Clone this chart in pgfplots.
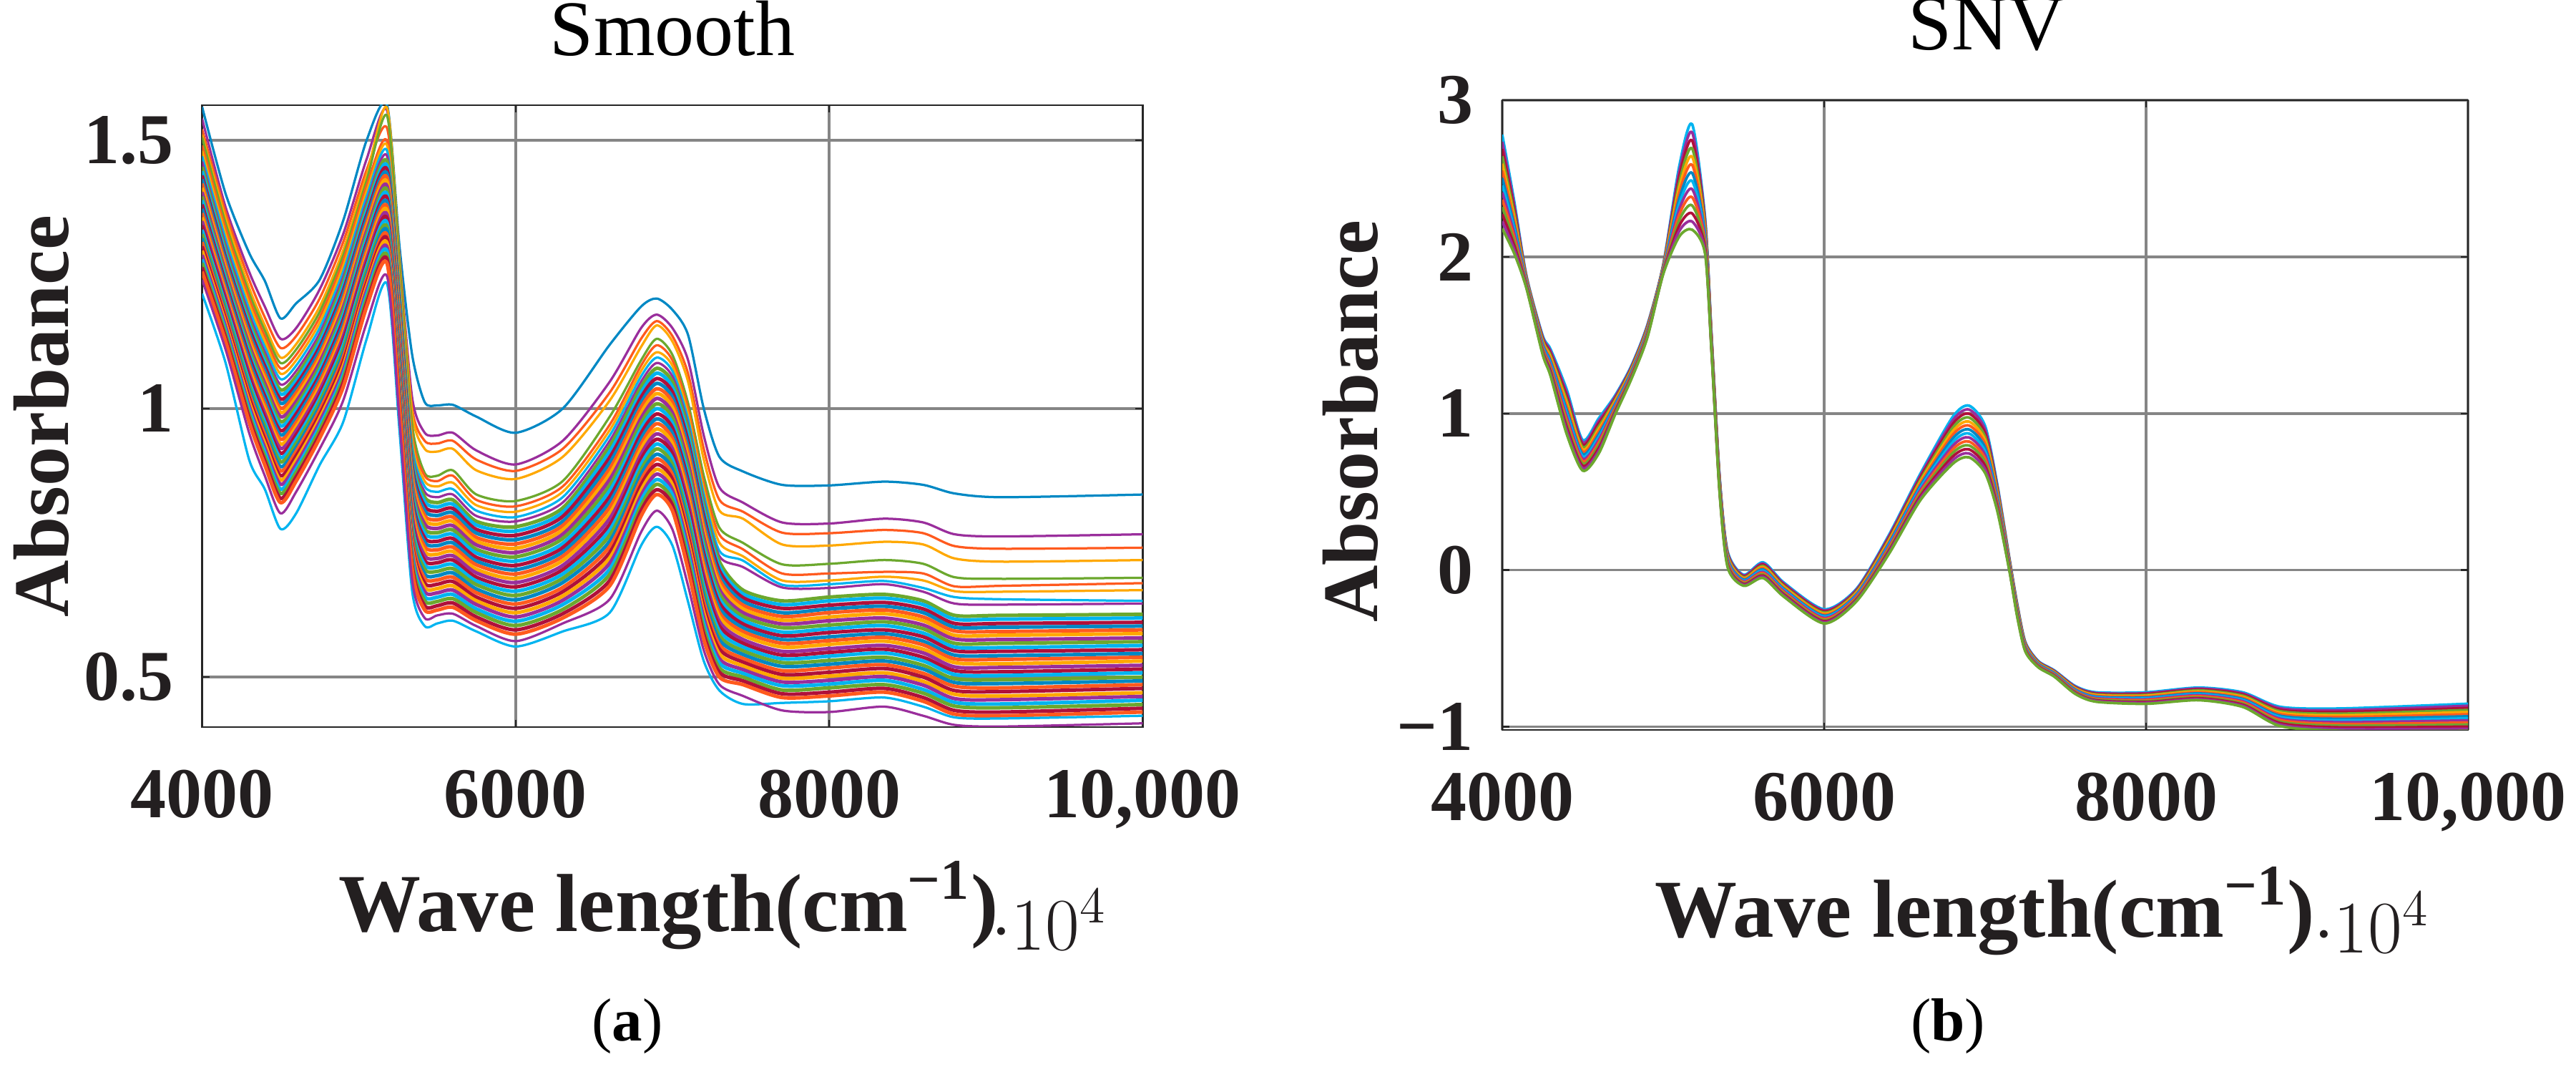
\documentclass[border=0pt]{standalone}
\usepackage{fontspec}
\setmainfont{Liberation Serif}
\usepackage{pgfplots}
\usepackage{pgfplotstable}
\pgfplotsset{compat=1.18}

\definecolor{mbl}{HTML}{0088C4}
\definecolor{mor}{HTML}{FF5A1E}
\definecolor{myl}{HTML}{FFA800}
\definecolor{mpu}{HTML}{9A2E9C}
\definecolor{mgr}{HTML}{6CA82E}
\definecolor{mcy}{HTML}{00B4F0}
\definecolor{mre}{HTML}{B0103A}
\definecolor{txt}{HTML}{231F20}

% Smooth: x, 9 upper curves, 26 main band curves, 2 lower curves
\pgfplotstableread{
4000 1.562 1.540 1.520 1.510 1.505 1.490 1.480 1.470 1.460 1.450 1.442 1.434 1.427 1.419 1.411 1.403 1.395 1.388 1.380 1.372 1.364 1.356 1.349 1.341 1.333 1.325 1.317 1.310 1.302 1.294 1.286 1.278 1.271 1.263 1.255 1.214 1.240
4150 1.400 1.375 1.365 1.355 1.345 1.335 1.325 1.315 1.305 1.295 1.288 1.281 1.275 1.268 1.261 1.254 1.247 1.241 1.234 1.227 1.220 1.213 1.207 1.200 1.193 1.186 1.179 1.173 1.166 1.159 1.152 1.145 1.139 1.132 1.125 1.085 1.110
4300 1.290 1.255 1.240 1.225 1.215 1.205 1.195 1.185 1.175 1.165 1.157 1.150 1.142 1.135 1.127 1.119 1.112 1.104 1.097 1.089 1.081 1.074 1.066 1.059 1.051 1.043 1.036 1.028 1.021 1.013 1.005 0.998 0.990 0.983 0.975 0.905 0.955
4400 1.238 1.190 1.170 1.155 1.145 1.135 1.125 1.115 1.105 1.095 1.087 1.079 1.071 1.063 1.055 1.047 1.039 1.031 1.023 1.015 1.007 0.999 0.991 0.983 0.975 0.967 0.959 0.951 0.943 0.935 0.927 0.919 0.911 0.903 0.895 0.850 0.875
4500 1.168 1.130 1.113 1.095 1.085 1.075 1.065 1.055 1.045 1.035 1.027 1.018 1.010 1.001 0.993 0.985 0.976 0.968 0.959 0.951 0.943 0.934 0.926 0.917 0.909 0.901 0.892 0.884 0.875 0.867 0.859 0.850 0.842 0.833 0.825 0.776 0.805
4600 1.196 1.150 1.135 1.120 1.110 1.100 1.090 1.080 1.070 1.060 1.052 1.044 1.037 1.029 1.021 1.013 1.005 0.998 0.990 0.982 0.974 0.966 0.959 0.951 0.943 0.935 0.927 0.920 0.912 0.904 0.896 0.888 0.881 0.873 0.865 0.805 0.845
4750 1.240 1.222 1.205 1.190 1.180 1.170 1.160 1.150 1.140 1.130 1.123 1.115 1.108 1.100 1.093 1.086 1.078 1.071 1.063 1.056 1.049 1.041 1.034 1.026 1.019 1.012 1.004 0.997 0.989 0.982 0.975 0.967 0.960 0.952 0.945 0.895 0.925
4900 1.350 1.325 1.310 1.295 1.285 1.275 1.265 1.255 1.245 1.235 1.227 1.219 1.212 1.204 1.196 1.188 1.180 1.173 1.165 1.157 1.149 1.141 1.134 1.126 1.118 1.110 1.102 1.095 1.087 1.079 1.071 1.063 1.056 1.048 1.040 0.975 1.015
5050 1.500 1.465 1.445 1.435 1.425 1.415 1.405 1.395 1.385 1.375 1.368 1.360 1.353 1.345 1.338 1.331 1.323 1.316 1.308 1.301 1.294 1.286 1.279 1.271 1.264 1.257 1.249 1.242 1.234 1.227 1.220 1.212 1.205 1.197 1.190 1.130 1.160
5180 1.565 1.555 1.522 1.560 1.545 1.498 1.490 1.480 1.470 1.460 1.452 1.445 1.437 1.430 1.422 1.414 1.407 1.399 1.392 1.384 1.376 1.369 1.361 1.354 1.346 1.338 1.331 1.323 1.316 1.308 1.300 1.293 1.285 1.278 1.270 1.232 1.246
5260 1.300 1.280 1.270 1.275 1.265 1.240 1.230 1.220 1.210 1.200 1.192 1.184 1.176 1.168 1.160 1.152 1.144 1.136 1.128 1.120 1.112 1.104 1.096 1.088 1.080 1.072 1.064 1.056 1.048 1.040 1.032 1.024 1.016 1.008 1.000 0.955 0.975
5340 1.100 1.020 1.000 0.990 0.970 0.950 0.940 0.930 0.920 0.910 0.902 0.893 0.885 0.876 0.868 0.860 0.851 0.843 0.834 0.826 0.818 0.809 0.801 0.792 0.784 0.776 0.767 0.759 0.750 0.742 0.734 0.725 0.717 0.708 0.700 0.660 0.680
5420 1.012 0.955 0.940 0.925 0.880 0.875 0.865 0.855 0.845 0.835 0.827 0.818 0.810 0.801 0.793 0.785 0.776 0.768 0.759 0.751 0.743 0.734 0.726 0.717 0.709 0.701 0.692 0.684 0.675 0.667 0.659 0.650 0.642 0.633 0.625 0.595 0.610
5500 1.006 0.950 0.935 0.920 0.875 0.865 0.855 0.845 0.835 0.825 0.817 0.809 0.801 0.793 0.785 0.777 0.769 0.761 0.753 0.745 0.737 0.729 0.721 0.713 0.705 0.697 0.689 0.681 0.673 0.665 0.657 0.649 0.641 0.633 0.625 0.600 0.615
5600 1.007 0.955 0.940 0.925 0.885 0.875 0.862 0.850 0.840 0.830 0.822 0.814 0.806 0.798 0.790 0.782 0.774 0.766 0.758 0.750 0.742 0.734 0.726 0.718 0.710 0.702 0.694 0.686 0.678 0.670 0.662 0.654 0.646 0.638 0.630 0.605 0.618
5750 0.985 0.922 0.905 0.885 0.840 0.830 0.820 0.810 0.800 0.790 0.783 0.775 0.768 0.760 0.753 0.746 0.738 0.731 0.723 0.716 0.709 0.701 0.694 0.686 0.679 0.672 0.664 0.657 0.649 0.642 0.635 0.627 0.620 0.612 0.605 0.585 0.595
6000 0.955 0.896 0.884 0.869 0.828 0.818 0.808 0.798 0.790 0.780 0.772 0.764 0.756 0.748 0.740 0.732 0.724 0.716 0.708 0.700 0.692 0.684 0.676 0.668 0.660 0.652 0.644 0.636 0.628 0.620 0.612 0.604 0.596 0.588 0.580 0.557 0.567
6300 1.000 0.940 0.925 0.910 0.865 0.855 0.845 0.835 0.825 0.815 0.807 0.799 0.790 0.782 0.774 0.766 0.758 0.749 0.741 0.733 0.725 0.717 0.708 0.700 0.692 0.684 0.676 0.667 0.659 0.651 0.643 0.635 0.626 0.618 0.610 0.585 0.600
6600 1.119 1.050 1.030 1.015 0.985 0.970 0.960 0.950 0.940 0.930 0.920 0.909 0.899 0.888 0.878 0.868 0.857 0.847 0.836 0.826 0.816 0.805 0.795 0.784 0.774 0.764 0.753 0.743 0.732 0.722 0.712 0.701 0.691 0.680 0.670 0.620 0.645
6800 1.190 1.150 1.130 1.115 1.090 1.080 1.070 1.060 1.050 1.040 1.030 1.021 1.011 1.002 0.992 0.982 0.973 0.963 0.954 0.944 0.934 0.925 0.915 0.906 0.896 0.886 0.877 0.867 0.858 0.848 0.838 0.829 0.819 0.810 0.800 0.745 0.770
6900 1.205 1.175 1.163 1.155 1.130 1.118 1.105 1.095 1.085 1.075 1.066 1.056 1.047 1.037 1.028 1.019 1.009 1.000 0.990 0.981 0.972 0.962 0.953 0.943 0.934 0.925 0.915 0.906 0.896 0.887 0.878 0.868 0.859 0.849 0.840 0.780 0.810
7000 1.184 1.150 1.135 1.125 1.100 1.090 1.080 1.070 1.060 1.050 1.040 1.031 1.021 1.012 1.002 0.992 0.983 0.973 0.964 0.954 0.944 0.935 0.925 0.916 0.906 0.896 0.887 0.877 0.868 0.858 0.848 0.839 0.829 0.820 0.810 0.745 0.775
7100 1.137 1.090 1.065 1.050 1.010 1.000 0.990 0.980 0.970 0.960 0.950 0.939 0.929 0.918 0.908 0.898 0.887 0.877 0.866 0.856 0.846 0.835 0.825 0.814 0.804 0.794 0.783 0.773 0.762 0.752 0.742 0.731 0.721 0.710 0.700 0.640 0.670
7200 1.000 0.950 0.925 0.905 0.875 0.860 0.850 0.840 0.830 0.820 0.810 0.800 0.790 0.780 0.770 0.760 0.750 0.740 0.730 0.720 0.710 0.700 0.690 0.680 0.670 0.660 0.650 0.640 0.630 0.620 0.610 0.600 0.590 0.580 0.570 0.530 0.550
7300 0.910 0.853 0.830 0.810 0.778 0.765 0.750 0.735 0.725 0.715 0.706 0.698 0.689 0.681 0.672 0.663 0.655 0.646 0.638 0.629 0.620 0.612 0.603 0.595 0.586 0.577 0.569 0.560 0.552 0.543 0.534 0.526 0.517 0.509 0.500 0.475 0.486
7450 0.883 0.825 0.808 0.795 0.750 0.738 0.725 0.717 0.705 0.662 0.655 0.648 0.641 0.634 0.627 0.620 0.613 0.606 0.599 0.592 0.585 0.578 0.570 0.563 0.556 0.549 0.542 0.535 0.528 0.521 0.514 0.507 0.500 0.493 0.486 0.450 0.465
7700 0.858 0.788 0.769 0.747 0.710 0.693 0.680 0.672 0.667 0.642 0.635 0.628 0.620 0.613 0.606 0.599 0.592 0.584 0.577 0.570 0.563 0.556 0.548 0.541 0.534 0.527 0.520 0.512 0.505 0.498 0.491 0.484 0.476 0.469 0.462 0.452 0.438
8000 0.857 0.786 0.768 0.745 0.711 0.693 0.680 0.673 0.666 0.649 0.642 0.634 0.627 0.620 0.612 0.605 0.597 0.590 0.583 0.575 0.568 0.561 0.553 0.546 0.539 0.531 0.524 0.517 0.509 0.502 0.494 0.487 0.480 0.472 0.465 0.455 0.435
8350 0.864 0.795 0.774 0.752 0.718 0.696 0.687 0.679 0.673 0.654 0.647 0.639 0.632 0.625 0.618 0.610 0.603 0.596 0.588 0.581 0.574 0.567 0.559 0.552 0.545 0.537 0.530 0.523 0.516 0.508 0.501 0.494 0.486 0.479 0.472 0.462 0.445
8600 0.858 0.788 0.768 0.747 0.711 0.693 0.680 0.666 0.659 0.642 0.635 0.627 0.620 0.612 0.605 0.597 0.590 0.582 0.575 0.567 0.560 0.552 0.545 0.537 0.530 0.522 0.515 0.507 0.500 0.492 0.485 0.477 0.470 0.462 0.455 0.445 0.428
8800 0.842 0.766 0.744 0.721 0.686 0.669 0.660 0.649 0.637 0.615 0.608 0.600 0.593 0.586 0.578 0.571 0.563 0.556 0.549 0.541 0.534 0.527 0.519 0.512 0.505 0.497 0.490 0.483 0.475 0.468 0.460 0.453 0.446 0.438 0.431 0.425 0.411
9100 0.835 0.762 0.739 0.715 0.683 0.670 0.659 0.645 0.635 0.615 0.608 0.600 0.593 0.585 0.578 0.570 0.563 0.555 0.548 0.540 0.533 0.525 0.518 0.510 0.503 0.495 0.488 0.480 0.473 0.465 0.458 0.450 0.443 0.435 0.428 0.423 0.408
10000 0.840 0.766 0.741 0.718 0.685 0.675 0.662 0.642 0.637 0.617 0.610 0.602 0.595 0.588 0.581 0.573 0.566 0.559 0.551 0.544 0.537 0.530 0.522 0.515 0.508 0.500 0.493 0.486 0.479 0.471 0.464 0.457 0.449 0.442 0.435 0.428 0.414
}\smoothtab

% SNV: x, 14 curves
\pgfplotstableread{
4000 2.780 2.734 2.688 2.642 2.595 2.549 2.503 2.457 2.411 2.365 2.318 2.272 2.226 2.180
4075 2.350 2.325 2.299 2.274 2.248 2.223 2.198 2.172 2.147 2.121 2.096 2.071 2.045 2.020
4150 1.880 1.874 1.868 1.862 1.855 1.849 1.843 1.837 1.831 1.825 1.818 1.812 1.806 1.800
4250 1.500 1.491 1.482 1.472 1.463 1.454 1.445 1.435 1.426 1.417 1.408 1.398 1.389 1.380
4300 1.410 1.397 1.384 1.371 1.358 1.345 1.332 1.318 1.305 1.292 1.279 1.266 1.253 1.240
4400 1.154 1.132 1.110 1.088 1.067 1.045 1.023 1.001 0.979 0.957 0.936 0.914 0.892 0.870
4500 0.830 0.815 0.800 0.785 0.770 0.755 0.740 0.725 0.710 0.695 0.680 0.665 0.650 0.635
4600 0.970 0.953 0.936 0.918 0.901 0.884 0.867 0.849 0.832 0.815 0.798 0.780 0.763 0.746
4700 1.113 1.104 1.094 1.085 1.075 1.066 1.056 1.047 1.037 1.028 1.018 1.009 0.999 0.990
4800 1.300 1.293 1.287 1.280 1.274 1.267 1.261 1.254 1.248 1.241 1.235 1.228 1.222 1.215
4900 1.560 1.554 1.548 1.541 1.535 1.529 1.523 1.517 1.511 1.505 1.498 1.492 1.486 1.480
5000 1.950 1.945 1.941 1.936 1.932 1.927 1.922 1.918 1.913 1.908 1.904 1.899 1.895 1.890
5100 2.580 2.545 2.511 2.476 2.442 2.407 2.372 2.338 2.303 2.269 2.234 2.199 2.165 2.130
5180 2.846 2.794 2.742 2.691 2.639 2.587 2.535 2.484 2.432 2.380 2.328 2.277 2.225 2.173
5260 2.250 2.232 2.215 2.197 2.179 2.162 2.144 2.126 2.108 2.091 2.073 2.055 2.038 2.020
5300 1.500 1.492 1.485 1.477 1.469 1.462 1.454 1.446 1.438 1.431 1.423 1.415 1.408 1.400
5350 0.600 0.592 0.585 0.577 0.569 0.562 0.554 0.546 0.538 0.531 0.523 0.515 0.508 0.500
5400 0.120 0.112 0.105 0.097 0.089 0.082 0.074 0.066 0.058 0.051 0.043 0.035 0.028 0.020
5500 -0.030 -0.035 -0.041 -0.046 -0.052 -0.057 -0.062 -0.068 -0.073 -0.078 -0.084 -0.089 -0.095 -0.100
5620 0.050 0.042 0.035 0.027 0.019 0.012 0.004 -0.004 -0.012 -0.019 -0.027 -0.035 -0.042 -0.050
5750 -0.080 -0.087 -0.094 -0.101 -0.108 -0.115 -0.121 -0.128 -0.135 -0.142 -0.149 -0.156 -0.163 -0.170
6000 -0.250 -0.257 -0.264 -0.271 -0.278 -0.285 -0.291 -0.298 -0.305 -0.312 -0.319 -0.326 -0.333 -0.340
6200 -0.120 -0.126 -0.132 -0.138 -0.145 -0.151 -0.157 -0.163 -0.169 -0.175 -0.182 -0.188 -0.194 -0.200
6400 0.220 0.211 0.202 0.192 0.183 0.174 0.165 0.155 0.146 0.137 0.128 0.118 0.109 0.100
6600 0.620 0.607 0.594 0.581 0.568 0.555 0.542 0.528 0.515 0.502 0.489 0.476 0.463 0.450
6800 0.980 0.957 0.934 0.911 0.888 0.865 0.842 0.818 0.795 0.772 0.749 0.726 0.703 0.680
6900 1.050 1.025 0.999 0.974 0.948 0.923 0.898 0.872 0.847 0.821 0.796 0.771 0.745 0.720
7000 0.920 0.897 0.874 0.851 0.828 0.805 0.782 0.758 0.735 0.712 0.689 0.666 0.643 0.620
7075 0.550 0.537 0.524 0.511 0.498 0.485 0.472 0.458 0.445 0.432 0.419 0.406 0.393 0.380
7150 0.080 0.074 0.068 0.062 0.055 0.049 0.043 0.037 0.031 0.025 0.018 0.012 0.006 0.000
7200 -0.220 -0.226 -0.232 -0.238 -0.245 -0.251 -0.257 -0.263 -0.269 -0.275 -0.282 -0.288 -0.294 -0.300
7250 -0.460 -0.465 -0.469 -0.474 -0.478 -0.483 -0.488 -0.492 -0.497 -0.502 -0.506 -0.511 -0.515 -0.520
7330 -0.580 -0.583 -0.586 -0.589 -0.592 -0.595 -0.598 -0.602 -0.605 -0.608 -0.611 -0.614 -0.617 -0.620
7430 -0.640 -0.643 -0.646 -0.649 -0.652 -0.655 -0.658 -0.662 -0.665 -0.668 -0.671 -0.674 -0.677 -0.680
7560 -0.740 -0.744 -0.748 -0.752 -0.755 -0.759 -0.763 -0.767 -0.771 -0.775 -0.778 -0.782 -0.786 -0.790
7690 -0.780 -0.785 -0.789 -0.794 -0.798 -0.803 -0.808 -0.812 -0.817 -0.822 -0.826 -0.831 -0.835 -0.840
8000 -0.780 -0.786 -0.791 -0.797 -0.802 -0.808 -0.814 -0.819 -0.825 -0.830 -0.836 -0.842 -0.847 -0.853
8325 -0.750 -0.756 -0.762 -0.768 -0.775 -0.781 -0.787 -0.793 -0.799 -0.805 -0.812 -0.818 -0.824 -0.830
8600 -0.780 -0.787 -0.794 -0.801 -0.809 -0.816 -0.823 -0.830 -0.837 -0.844 -0.852 -0.859 -0.866 -0.873
8836 -0.873 -0.882 -0.892 -0.901 -0.911 -0.920 -0.930 -0.939 -0.949 -0.958 -0.968 -0.977 -0.987 -0.996
9218 -0.883 -0.894 -0.905 -0.916 -0.927 -0.938 -0.949 -0.960 -0.971 -0.982 -0.993 -1.004 -1.015 -1.026
10000 -0.853 -0.866 -0.880 -0.893 -0.906 -0.920 -0.933 -0.946 -0.959 -0.973 -0.986 -0.999 -1.013 -1.026
}\snvtab

\pgfplotsset{
	specaxis/.style={
		scale only axis,
		anchor=south west,
		xmin=4000, xmax=10000,
		xtick={4000,6000,8000,10000},
		xticklabels={4000,6000,8000,{10,000}},
		grid=major,
		grid style={line width=.7pt, draw=black!48},
		axis line style={line width=.55pt, draw=black!85},
		tick align=inside,
		major tick length=2pt,
		tick style={line width=.5pt, draw=black!85},
		tick label style={font=\fontsize{20}{22}\selectfont\bfseries, text=txt},
		xticklabel style={yshift=-8.5pt},
		yticklabel style={xshift=-4.5pt},
		xlabel style={font=\fontsize{23}{26}\selectfont\bfseries, text=txt, anchor=base},
		ylabel style={font=\fontsize{22}{24}\selectfont\bfseries, text=txt, anchor=center},
		title style={font=\fontsize{22}{24}\selectfont, anchor=base},
		every axis plot/.append style={smooth, tension=.45, line join=round, no markers},
	},
}

\begin{document}
\begin{tikzpicture}
\path[use as bounding box] (0,0) rectangle (720.2pt,299.6pt);

\begin{axis}[
	specaxis,
	at={(56.5pt,96.4pt)},
	width=263pt, height=173.8pt,
	ymin=0.407, ymax=1.565,
	ytick={0.5,1,1.5},
	yticklabels={0.5,1,1.5},
	title={Smooth},
	title style={at={(axis description cs:0.5,1.046)}},
	xlabel={Wave length(cm\textsuperscript{−1})},
	xlabel style={at={(axis description cs:0.496,-0.329)}},
	ylabel={Absorbance},
	ylabel style={at={(axis description cs:-0.171,0.5)}},
	cycle list={mbl,mpu,mor,myl,mgr,mor,myl,mcy,mpu,
		mgr,mcy,mre,mbl,mor,myl,mpu,mgr,mcy,mre,mbl,mor,myl,mpu,mre,mcy,mgr,mbl,mor,mre,myl,mpu,mcy,mgr,mre,mor,
		mcy,mpu},
]
\pgfplotsinvokeforeach{1,...,9}{
	\addplot+[line width=.65pt] table[x index=0, y index=#1] {\smoothtab};
}
\pgfplotsinvokeforeach{10,...,35}{
	\addplot+[line width=1pt] table[x index=0, y index=#1] {\smoothtab};
}
\pgfplotsinvokeforeach{36,37}{
	\addplot+[line width=.65pt] table[x index=0, y index=#1] {\smoothtab};
}
\end{axis}

\begin{axis}[
	specaxis,
	at={(420pt,95.6pt)},
	width=270pt, height=176pt,
	ymin=-1.02, ymax=3,
	ytick={-1,0,1,2,3},
	yticklabels={−1,0,1,2,3},
	title={SNV},
	title style={at={(axis description cs:0.5015,1.0455)}},
	xlabel={Wave length(cm\textsuperscript{−1})},
	xlabel style={at={(axis description cs:0.5,-0.3295)}},
	ylabel={Absorbance},
	ylabel style={at={(axis description cs:-0.157,0.49)}},
	cycle list={mcy,mpu,mre,mgr,myl,mor,mbl,mcy,mpu,mor,mgr,mre,mpu,mgr},
]
\pgfplotsinvokeforeach{1,...,14}{
	\addplot+[line width=.75pt] table[x index=0, y index=#1] {\snvtab};
}
\end{axis}

\node[anchor=base, font=\fontsize{17}{20}\selectfont, text=black] at (175.4pt,8.6pt) {(\textbf{a})};
\node[anchor=base, font=\fontsize{17}{20}\selectfont, text=black] at (544.6pt,8.6pt) {(\textbf{b})};
\end{tikzpicture}
\end{document}
